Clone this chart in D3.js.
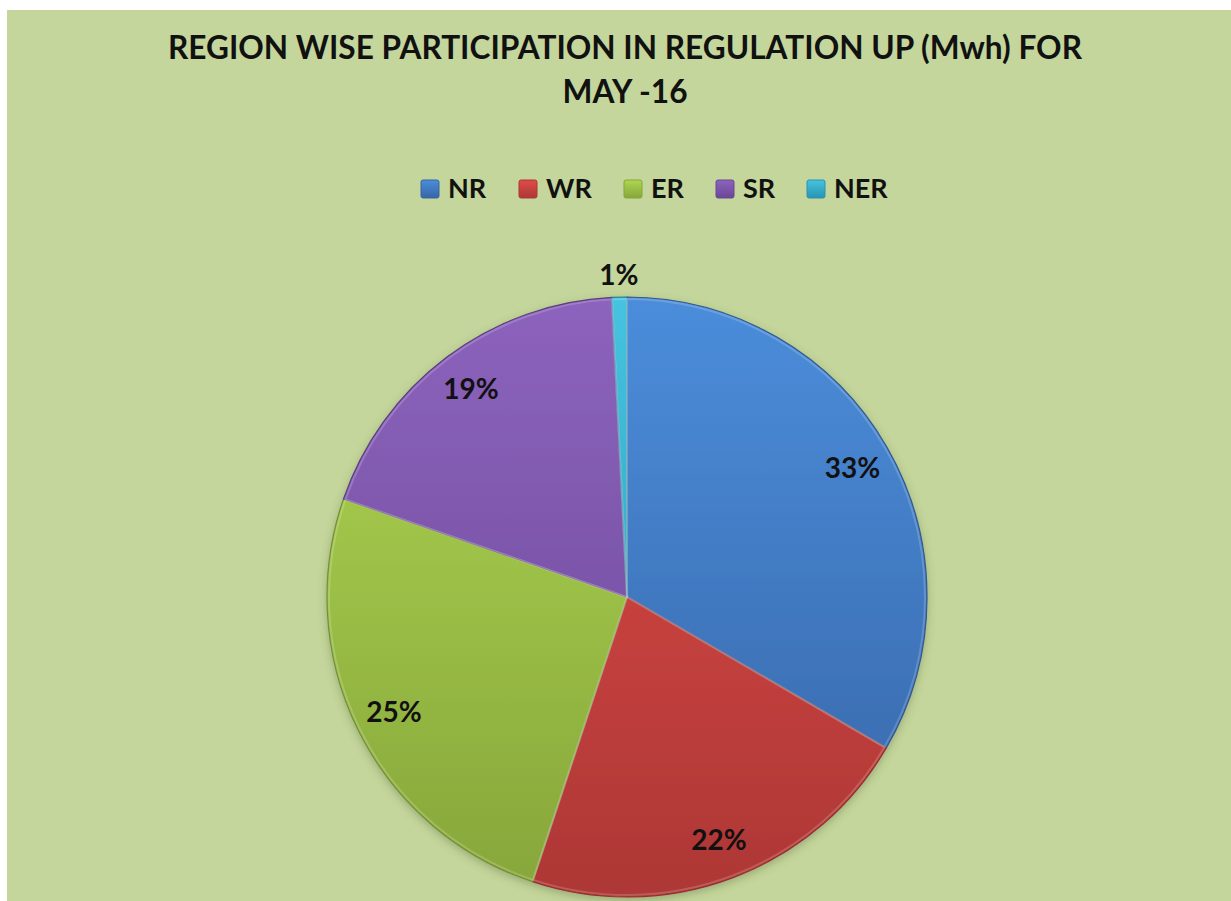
<!DOCTYPE html>
<html>
<head>
<meta charset="utf-8">
<script src="https://cdn.jsdelivr.net/npm/d3@7"></script>
<style>
  body { margin: 0; background: #ffffff; }
  text { font-family: Lato, "Open Sans", sans-serif; font-weight: 700; fill: #111; }
</style>
</head>
<body>
<div id="chart"></div>
<script>
// data (share of total, %)
var regions = ["NR", "WR", "ER", "SR", "NER"];
var shares = [33.4, 21.7, 25.2, 18.9, 0.8];
var titleLines = ["REGION WISE PARTICIPATION IN REGULATION UP (Mwh) FOR", "MAY -16"];

// colours: light top / dark bottom for each slice
var colTop = ["#4b8ddb", "#e04c48", "#afd652", "#8c63bd", "#45c3e0"];
var colBot = ["#3765a6", "#ad3735", "#86a63a", "#6a4895", "#2a93b3"];

var W = 1231, H = 901;
var cx = 627, cy = 597, R = 300;

var svg = d3.select("#chart")
  .append("svg")
  .attr("width", W)
  .attr("height", H);

var defs = svg.append("defs");

// pie gradients (vertical across whole pie, in the pie group's own coords)
regions.forEach(function(r, i) {
  var g = defs.append("linearGradient")
    .attr("id", "grad" + i)
    .attr("gradientUnits", "userSpaceOnUse")
    .attr("x1", 0).attr("y1", -R)
    .attr("x2", 0).attr("y2", R);
  g.append("stop").attr("offset", "0%").attr("stop-color", colTop[i]);
  g.append("stop").attr("offset", "100%").attr("stop-color", colBot[i]);

  var s = defs.append("linearGradient")
    .attr("id", "sw" + i)
    .attr("x1", 0).attr("y1", 0).attr("x2", 0).attr("y2", 1);
  s.append("stop").attr("offset", "0%").attr("stop-color", colTop[i]);
  s.append("stop").attr("offset", "100%").attr("stop-color", colBot[i]);
});

var shadow = defs.append("filter")
  .attr("id", "shadow")
  .attr("x", "-10%").attr("y", "-10%")
  .attr("width", "120%").attr("height", "120%");
shadow.append("feDropShadow")
  .attr("dx", 0).attr("dy", 3)
  .attr("stdDeviation", 4)
  .attr("flood-color", "#4a5a30")
  .attr("flood-opacity", 0.35);

// background
svg.append("rect")
  .attr("x", 7).attr("y", 10)
  .attr("width", W - 7).attr("height", H - 10)
  .attr("fill", "#c4d69b");

// title
svg.append("text")
  .attr("x", 625).attr("y", 59)
  .attr("text-anchor", "middle")
  .attr("textLength", 914)
  .attr("lengthAdjust", "spacingAndGlyphs")
  .style("font-size", "32px")
  .text(titleLines[0]);

svg.append("text")
  .attr("x", 625).attr("y", 103)
  .attr("text-anchor", "middle")
  .attr("textLength", 125)
  .attr("lengthAdjust", "spacingAndGlyphs")
  .style("font-size", "32px")
  .text(titleLines[1]);

// legend
var legendX = [421, 519, 624, 716, 807];
var legend = svg.append("g");
regions.forEach(function(r, i) {
  var g = legend.append("g")
    .attr("transform", "translate(" + legendX[i] + ",180)");
  g.append("rect")
    .attr("width", 18).attr("height", 18)
    .attr("rx", 2)
    .attr("fill", "url(#sw" + i + ")")
    .attr("stroke", colBot[i])
    .attr("stroke-width", 1);
  g.append("text")
    .attr("x", 27).attr("y", 18)
    .style("font-size", "27px")
    .text(r);
});

// pie
var pie = d3.pie().sort(null).value(function(d) { return d; });
var arcs = pie(shares);
var arc = d3.arc().innerRadius(0).outerRadius(R);
var labelArc = d3.arc().innerRadius(260).outerRadius(260);
var outArc = d3.arc().innerRadius(322).outerRadius(322);

var pg = svg.append("g")
  .attr("transform", "translate(" + cx + "," + cy + ")");

pg.append("g")
  .attr("filter", "url(#shadow)")
  .selectAll("path")
  .data(arcs)
  .enter().append("path")
  .attr("d", arc)
  .attr("fill", function(d, i) { return "url(#grad" + i + ")"; })
  .attr("stroke", function(d, i) { return d3.color(colBot[i]).darker(0.4); })
  .attr("stroke-width", 1.2)
  .attr("stroke-linejoin", "round");

// light inner bevel on each slice
pg.append("g")
  .selectAll("path")
  .data(arcs)
  .enter().append("path")
  .attr("d", d3.arc().innerRadius(0).outerRadius(R - 2))
  .attr("fill", "none")
  .attr("stroke", "#ffffff")
  .attr("stroke-opacity", 0.18)
  .attr("stroke-width", 2);

// percentage labels
pg.selectAll(".lbl")
  .data(arcs)
  .enter().append("text")
  .attr("class", "lbl")
  .attr("transform", function(d, i) {
    var p = (d.data < 3 ? outArc : labelArc).centroid(d);
    return "translate(" + p[0] + "," + p[1] + ")";
  })
  .attr("text-anchor", "middle")
  .attr("dy", "0.36em")
  .style("font-size", "28px")
  .text(function(d) { return Math.round(d.data) + "%"; });
</script>
</body>
</html>
